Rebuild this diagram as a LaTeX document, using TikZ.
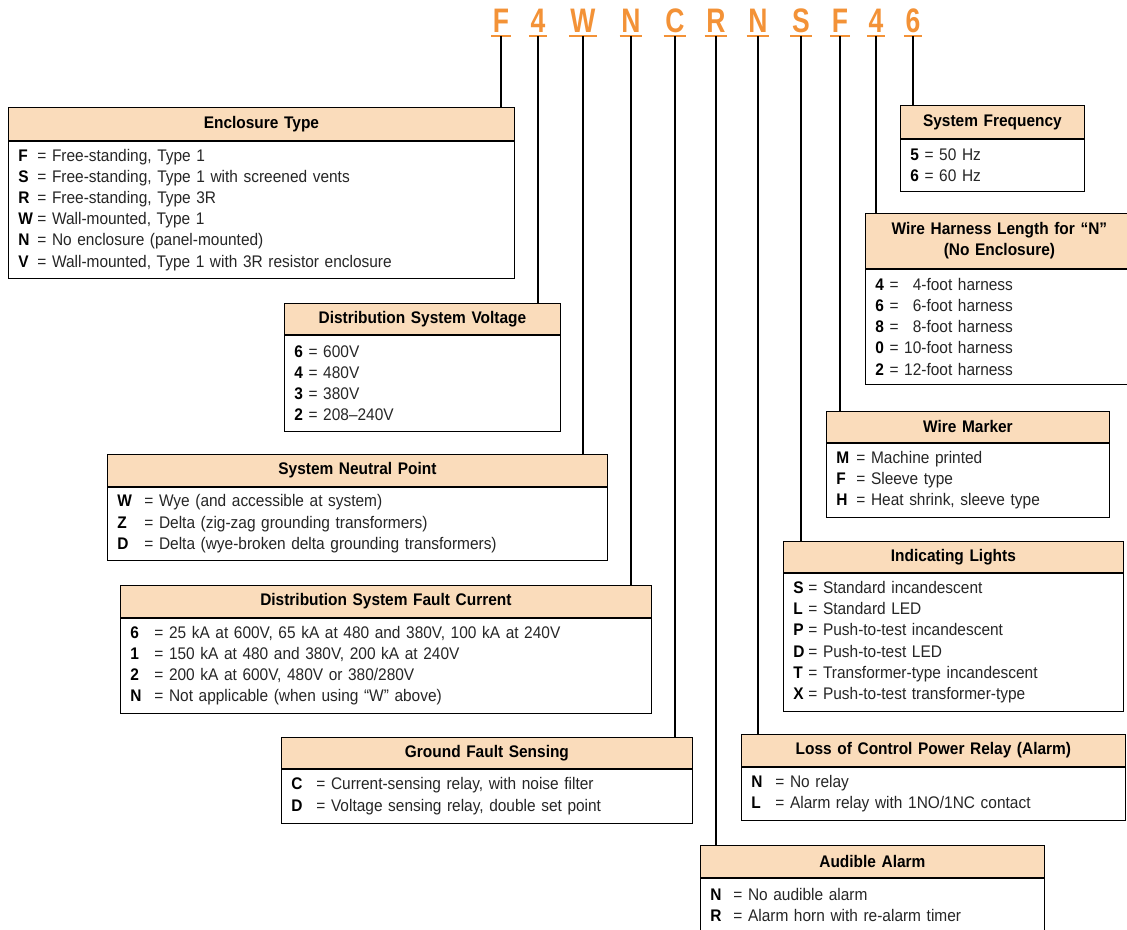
\documentclass[tikz,border=0pt]{standalone}
\usepackage{fontspec}
\setmainfont{Liberation Sans}[FakeStretch=0.92]
\newfontfamily\codefont{Liberation Sans}[FakeStretch=0.78]
\usetikzlibrary{positioning}
\definecolor{codeorange}{RGB}{243,146,55}
\definecolor{headpeach}{RGB}{250,220,187}
% bold key letter, and a key letter in a box of fixed width
\newcommand{\kv}[1]{\textcolor{black}{\bfseries #1}}
\newcommand{\kw}[2]{\makebox[#1][l]{\kv{#2}}}

\begin{document}
\begin{tikzpicture}[x=1pt,y=-1pt]
	% the picture is laid out in pixels of the reference, y going down
	\tikzset{code/.style={anchor=base,text=codeorange,font=\codefont\fontsize{34}{34}\selectfont\bfseries,inner xsep=1.5pt,inner ysep=4pt,text depth=0pt},
		uline/.style={codeorange,line width=2pt},
		lead/.style={line width=1.8pt},
		head/.style={draw,line width=0.8pt,fill=headpeach,anchor=north west,align=center,inner xsep=10pt,font=\fontsize{16.8}{21}\selectfont\bfseries},
		body/.style={draw,line width=0.8pt,fill=white,below=0pt of #1,align=left,inner xsep=10pt,text=black!85,font=\fontsize{16.8}{21.2}\selectfont},
	}
	\useasboundingbox (0,0) rectangle (1127,929);
	% the catalogue number, one node per letter
	\node[code] (cEncl) at (501,32) {F};
	\node[code] (cVolt) at (538,32) {4};
	\node[code] (cNeut) at (583,32) {W};
	\node[code] (cFault) at (631,32) {N};
	\node[code] (cGfs) at (675,32) {C};
	\node[code] (cAud) at (716,32) {R};
	\node[code] (cLoss) at (758,32) {N};
	\node[code] (cLight) at (801,32) {S};
	\node[code] (cMark) at (840,32) {F};
	\node[code] (cHarn) at (876,32) {4};
	\node[code] (cFreq) at (913,32) {6};
	% left column of boxes
	\node[head,text width=486pt,minimum height=33pt] (encl) at (8,107) {Enclosure Type};
	\node[body=encl,text width=486pt,minimum height=137pt] (enclb) {\kw{19pt}{F}= Free-standing, Type 1\\
		\kw{19pt}{S}= Free-standing, Type 1 with screened vents\\
		\kw{19pt}{R}= Free-standing, Type 3R\\
		\kw{19pt}{W}= Wall-mounted, Type 1\\
		\kw{19pt}{N}= No enclosure (panel-mounted)\\
		\kw{19pt}{V}= Wall-mounted, Type 1 with 3R resistor enclosure};
	\node[head,text width=256pt,minimum height=31pt] (volt) at (284,303) {Distribution System Voltage};
	\node[body=volt,text width=256pt,minimum height=96pt] (voltb) {\kv{6} = 600V\\
		\kv{4} = 480V\\
		\kv{3} = 380V\\
		\kv{2} = 208--240V};
	\node[head,text width=480pt,minimum height=32pt] (neut) at (107,454) {System Neutral Point};
	\node[body=neut,text width=480pt,minimum height=73pt] (neutb) {\kw{27pt}{W}= Wye (and accessible at system)\\
		\kw{27pt}{Z}= Delta (zig-zag grounding transformers)\\
		\kw{27pt}{D}= Delta (wye-broken delta grounding transformers)};
	\node[head,text width=511pt,minimum height=32pt] (fault) at (120,585) {Distribution System Fault Current};
	\node[body=fault,text width=511pt,minimum height=95pt] (faultb) {\kw{24pt}{6}= 25 kA at 600V, 65 kA at 480 and 380V, 100 kA at 240V\\
		\kw{24pt}{1}= 150 kA at 480 and 380V, 200 kA at 240V\\
		\kw{24pt}{2}= 200 kA at 600V, 480V or 380/280V\\
		\kw{24pt}{N}= Not applicable (when using “W” above)};
	\node[head,text width=391pt,minimum height=31pt] (gfs) at (281,737) {Ground Fault Sensing};
	\node[body=gfs,text width=391pt,minimum height=54pt] (gfsb) {\kw{25pt}{C}= Current-sensing relay, with noise filter\\
		\kw{25pt}{D}= Voltage sensing relay, double set point};
	% right column of boxes
	\node[head,text width=324pt,minimum height=32pt] (aud) at (700,845) {Audible Alarm};
	\node[body=aud,text width=324pt,minimum height=54pt] (audb) {\kw{23pt}{N}= No audible alarm\\
		\kw{23pt}{R}= Alarm horn with re-alarm timer};
	\node[head,text width=364pt,minimum height=32pt] (loss) at (741,734) {Loss of Control Power Relay (Alarm)};
	\node[body=loss,text width=364pt,minimum height=53pt] (lossb) {\kw{24pt}{N}= No relay\\
		\kw{24pt}{L}= Alarm relay with 1NO/1NC contact};
	\node[head,text width=320pt,minimum height=31pt] (light) at (783,541) {Indicating Lights};
	\node[body=light,text width=320pt,minimum height=138pt] (lightb) {\kw{15pt}{S}= Standard incandescent\\
		\kw{15pt}{L}= Standard LED\\
		\kw{15pt}{P}= Push-to-test incandescent\\
		\kw{15pt}{D}= Push-to-test LED\\
		\kw{15pt}{T}= Transformer-type incandescent\\
		\kw{15pt}{X}= Push-to-test transformer-type};
	\node[head,text width=263pt,minimum height=31pt] (mark) at (826,411) {Wire Marker};
	\node[body=mark,text width=263pt,minimum height=74pt] (markb) {\kw{20pt}{M}= Machine printed\\
		\kw{20pt}{F}= Sleeve type\\
		\kw{20pt}{H}= Heat shrink, sleeve type};
	\node[head,text width=248pt,minimum height=55pt] (harn) at (865,213) {Wire Harness Length for “N”\\(No Enclosure)};
	\node[body=harn,text width=248pt,minimum height=115pt] (harnb) {\kv{4} = \phantom{1}4-foot harness\\
		\kv{6} = \phantom{1}6-foot harness\\
		\kv{8} = \phantom{1}8-foot harness\\
		\kv{0} = 10-foot harness\\
		\kv{2} = 12-foot harness};
	\node[head,text width=164pt,minimum height=33pt] (freq) at (900,105) {System Frequency};
	\node[body=freq,text width=164pt,minimum height=52pt] (freqb) {\kv{5} = 50 Hz\\
		\kv{6} = 60 Hz};
	% underline each letter and lead it down to its box
	\foreach \c/\b in {cEncl/encl,cVolt/volt,cNeut/neut,cFault/fault,cGfs/gfs,cAud/aud,cLoss/loss,cLight/light,cMark/mark,cHarn/harn,cFreq/freq}{
		\draw[uline] (\c.south west) -- (\c.south east);
		\draw[lead] (\c.south) -- (\c.south |- \b.north);
	}
\end{tikzpicture}
\end{document}
